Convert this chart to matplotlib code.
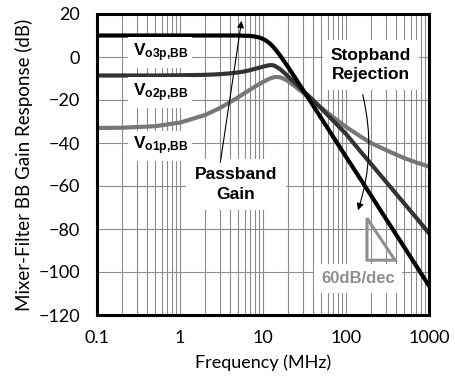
import matplotlib.pyplot as plt
from matplotlib.patches import Polygon
from matplotlib.ticker import LogLocator, NullFormatter

plt.rcParams['mathtext.fontset'] = 'custom'
plt.rcParams['mathtext.bf'] = 'Liberation Sans:bold'
plt.rcParams['mathtext.rm'] = 'Liberation Sans'

# frequency points (MHz) and read-off gain values (dB)
freq = [0.1, 0.2, 0.5, 1, 2, 3, 4, 5, 6, 7, 8, 9, 10, 11, 12, 13, 14, 16, 18, 20,
        25, 30, 40, 50, 70, 100, 150, 200, 300, 500, 700, 1000]
vo3p = [10, 10, 10, 10, 10, 10, 10, 10, 9.9, 9.8, 9.5, 9.1, 8.4, 7.5, 6.4, 5.1, 3.7, 0.8, -2.0, -4.6,
        -10.3, -15.0, -22.5, -28.3, -37.1, -46.4, -56.9, -64.4, -75.0, -88.3, -97.1, -106.4]
vo2p = [-8.6, -8.6, -8.6, -8.5, -8.3, -8.0, -7.6, -7.2, -6.7, -6.1, -5.5, -5.0, -4.5, -4.1, -3.8, -3.8, -4.2, -5.6, -7.3, -9.0,
        -12.5, -15.5, -20.0, -23.8, -29.6, -35.8, -44.0, -49.7, -57.8, -68.0, -74.7, -82.0]
vo1p = [-33.0, -32.9, -32.2, -30.5, -27.0, -23.8, -21.0, -18.8, -16.8, -15.2, -13.8, -12.6, -11.6, -10.8, -10.1, -9.6, -9.3, -9.4, -10.2, -11.2,
        -14.0, -16.5, -20.5, -23.5, -28.0, -32.5, -37.0, -40.0, -43.2, -47.0, -49.0, -51.0]

yticks = [-120, -100, -80, -60, -40, -20, 0, 20]
xticks = [0.1, 1, 10, 100, 1000]
xticklabels = ['0.1', '1', '10', '100', '1000']

# 60 dB/dec slope triangle corners (MHz, dB)
tri_f = [179, 179, 389]
tri_db = [-75, -94.5, -94.5]

fig = plt.figure(figsize=(4.55, 3.82), dpi=100)
ax = fig.add_axes([97 / 455, 1 - 315 / 382, 332 / 455, 301 / 382])

ax.plot(freq, vo1p, color='#777777', lw=3.0, zorder=4)
ax.plot(freq, vo2p, color='#333333', lw=3.0, zorder=5)
ax.plot(freq, vo3p, color='black', lw=3.0, zorder=6)

ax.set_xscale('log')
ax.set_xlim(0.1, 1000)
ax.set_ylim(-120, 20)
ax.set_xticks(xticks)
ax.set_xticklabels(xticklabels)
ax.set_yticks(yticks)
ax.xaxis.set_minor_locator(LogLocator(base=10, subs=range(2, 10)))
ax.xaxis.set_minor_formatter(NullFormatter())
ax.grid(which='both', axis='x', color='#8c8c8c', lw=0.8)
ax.grid(which='major', axis='y', color='#8c8c8c', lw=0.8)
ax.tick_params(which='both', length=0)
ax.tick_params(axis='y', pad=12)
ax.tick_params(axis='x', pad=11)
for lab in ax.get_xticklabels() + ax.get_yticklabels():
    lab.set_family('Lato')
    lab.set_fontsize(13)
for s in ax.spines.values():
    s.set_linewidth(2.2)
    s.set_zorder(10)

ax.set_xlabel('Frequency (MHz)', family='Lato', fontsize=13, labelpad=6)
ax.set_ylabel('Mixer-Filter BB Gain Response (dB)', family='Lato', fontsize=13.5, labelpad=4)

box = dict(facecolor='white', edgecolor='none', pad=3)
for name, y in [('o3p{,}BB', 2), ('o2p{,}BB', -16.7), ('o1p{,}BB', -41.4)]:
    ax.text(0.58, y, r'$\mathbf{V_{%s}}$' % name, fontsize=12.5, ha='center', va='center',
            bbox=box, zorder=7)

bigbox = dict(facecolor='white', edgecolor='none', pad=6)
ax.text(4.73, -59.3, 'Passband\nGain', family='Liberation Sans', weight='bold', fontsize=12.5,
        ha='center', va='center', linespacing=1.4, bbox=bigbox, zorder=7)
ax.text(200, -3.7, 'Stopband\nRejection', family='Liberation Sans', weight='bold', fontsize=12.5,
        ha='center', va='center', linespacing=1.3, bbox=bigbox, zorder=7)
ax.text(140, -103.2, '60dB/dec', family='Liberation Sans', weight='bold', fontsize=12,
        color='#8f8f8f', ha='center', va='center', bbox=dict(facecolor='white', edgecolor='none', pad=5), zorder=7)

ax.annotate('', xy=(5.58, 18.1), xytext=(3.03, -50.2),
            arrowprops=dict(arrowstyle='-|>', color='black', lw=0.8, mutation_scale=10), zorder=8)
ax.annotate('', xy=(136, -72.5), xytext=(156, -16.3),
            arrowprops=dict(arrowstyle='-|>', color='black', lw=0.8, mutation_scale=10,
                            connectionstyle='arc3,rad=-0.15'), zorder=8)

ax.add_patch(Polygon(list(zip(tri_f, tri_db)), closed=True, fill=False, edgecolor='#8f8f8f',
                     lw=2.2, zorder=7))

fig.savefig('out.png', dpi=100)
